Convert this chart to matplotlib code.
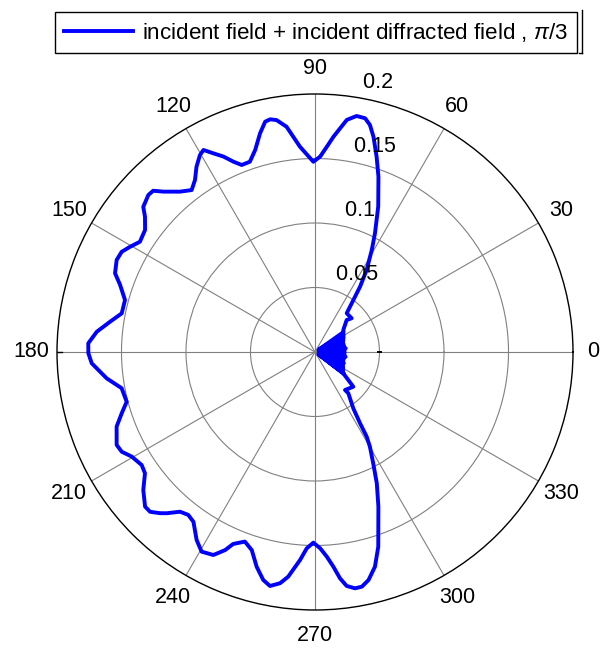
import numpy as np
import matplotlib
matplotlib.use("Agg")
import matplotlib.pyplot as plt
from matplotlib.lines import Line2D

plt.rcParams["font.family"] = ["Liberation Sans", "DejaVu Sans"]
plt.rcParams["mathtext.fontset"] = "custom"
plt.rcParams["mathtext.rm"] = "Liberation Sans"
plt.rcParams["mathtext.it"] = "Liberation Sans:italic"

# Field pattern: observation angle (degrees) and field magnitude
theta_deg = [
    -37.0, -35, -33, -31, -29, -27, -25, -23, -21, -19, -17, -15, -13, -11, -9, -7,
    -5, -3, -1, 1, 3, 5, 7, 9, 11, 13, 15, 17, 19, 21, 23, 25, 27, 29, 31, 33, 35,
    37.9, 45.3, 42.6, 50.7, 53.6, 55.4, 57.8, 60.9, 63.2, 66.5, 70.1, 72.5, 74.8,
    76.4, 77.9, 80.0, 82.2, 83.6, 85.1, 86.7, 88.5, 90.5, 94.2, 95.8, 97.2, 99.4,
    100.9, 102.2, 104.1, 106.5, 108.9, 111.4, 113.2, 115.1, 117.1, 118.9, 120.3,
    122.6, 124.9, 127.3, 130.1, 133.4, 135.1, 136.7, 139.8, 141.5, 144.3, 147.8,
    150.4, 152.6, 155.1, 158.5, 161.0, 164.7, 168.7, 171.6, 174.7, 177.8, 180.3,
    182.9, 187.2, 190.6, 194.8, 197.6, 200.6, 205.1, 207.3, 209.7, 213.1, 215.5,
    218.8, 222.3, 224.1, 226.1, 227.4, 229.8, 232.1, 234.4, 237.8, 240.4, 243.4,
    245.6, 246.9, 249.7, 252.3, 254.8, 257.2, 259.1, 261.4, 263.2, 265.9, 267.6,
    269.5, 271.5, 273.3, 274.9, 276.3, 277.7, 279.6, 281.3, 283.2, 285.6, 288.0,
    292.3, 295.2, 297.6, 300.1, 301.4, 302.3, 304.2, 308.9, 308.3, 317.8, 319.9,
    323.0,
]
magnitude = [
    0.0274, 0.004, 0.026, 0.006, 0.025, 0.003, 0.024, 0.016, 0.024, 0.004, 0.023,
    0.017, 0.023, 0.003, 0.024, 0.017, 0.023, 0.004, 0.023, 0.005, 0.023, 0.017,
    0.024, 0.003, 0.023, 0.017, 0.023, 0.004, 0.023, 0.016, 0.024, 0.003, 0.025,
    0.006, 0.026, 0.004, 0.027,
    0.0278, 0.0349, 0.0386, 0.0388, 0.0501, 0.0615, 0.0751, 0.0905, 0.1031,
    0.1229, 0.1445, 0.1588, 0.1729, 0.1811, 0.1853, 0.1858, 0.1816, 0.1745,
    0.1675, 0.1594, 0.1515, 0.1475, 0.1596, 0.1678, 0.1760, 0.1822, 0.1837,
    0.1827, 0.1748, 0.1633, 0.1559, 0.1557, 0.1605, 0.1673, 0.1730, 0.1789,
    0.1768, 0.1705, 0.1626, 0.1578, 0.1625, 0.1711, 0.1771, 0.1775, 0.1743,
    0.1684, 0.1622, 0.1604, 0.1650, 0.1688, 0.1695, 0.1666, 0.1598, 0.1527,
    0.1528, 0.1606, 0.1699, 0.1759, 0.1757, 0.1733, 0.1628, 0.1525, 0.1510,
    0.1572, 0.1643, 0.1698, 0.1686, 0.1636, 0.1604, 0.1619, 0.1708, 0.1781,
    0.1780, 0.1734, 0.1698, 0.1621, 0.1600, 0.1619, 0.1722, 0.1780, 0.1760,
    0.1686, 0.1618, 0.1567, 0.1612, 0.1725, 0.1812, 0.1847, 0.1813, 0.1754,
    0.1616, 0.1523, 0.1478, 0.1522, 0.1589, 0.1671, 0.1765, 0.1830, 0.1858,
    0.1855, 0.1816, 0.1728, 0.1587, 0.1295, 0.1125, 0.0974, 0.0849, 0.0769,
    0.0653, 0.0528, 0.0412, 0.0375, 0.0401, 0.0337, 0.0274,
]

ring_values = [0.05, 0.1, 0.15, 0.2]
ring_labels = ["0.05", "0.1", "0.15", "0.2"]
spoke_angles = [0, 30, 60, 90, 120, 150, 180, 210, 240, 270, 300, 330]
spoke_labels = ["0", "30", "60", "90", "120", "150", "180", "210", "240", "270", "300", "330"]
legend_label = "incident field + incident diffracted field , $\\pi$/3"

FS = 15.5
LEG_FS = 16.1
GRID = "#808080"

fig = plt.figure(figsize=(6, 6.5), dpi=100)
ax = fig.add_axes([0.095, 0.06154, 0.86, 0.79385], projection="polar")
ax.set_ylim(0, ring_values[-1])
ax.set_yticks(ring_values[:-1])
ax.set_yticklabels([])
ax.set_xticks(np.deg2rad(spoke_angles))
ax.set_xticklabels([])
ax.tick_params(length=0)
ax.grid(True, color=GRID, linewidth=0.8, linestyle="-")
ax.spines["polar"].set_color("black")
ax.spines["polar"].set_linewidth(1.0)

# closed field curve
th = np.deg2rad(theta_deg + theta_deg[1:2])
rr = magnitude + magnitude[1:2]
line, = ax.plot(th, rr, color=(0, 0, 1), linewidth=2.8,
                solid_joinstyle="round", label=legend_label)

# small marks on the 0 and 180 degree axes
ax.plot([np.pi, np.pi], [0.2, 0.1965], color="black", linewidth=1.0)
ax.plot([0, 0], [0.0485, 0.0515], color="black", linewidth=1.4)

# angle labels around the outer ring (the 0 label is pulled in to stay on the canvas)
for ang, lab in zip(spoke_angles, spoke_labels):
    rad = 1.1 * ring_values[-1] if ang != 0 else 1.077 * ring_values[-1]
    ax.text(np.deg2rad(ang), rad, lab, ha="center", va="center",
            fontsize=FS, clip_on=False)

# ring magnitude labels along the 82 degree direction
for val, lab in zip(ring_values, ring_labels):
    ax.text(np.deg2rad(82), val + 0.0025, "  " + lab, ha="left", va="bottom",
            fontsize=FS, clip_on=False)

leg = fig.legend(handles=[line], loc="upper left",
                 bbox_to_anchor=(55 / 600, 1 - 12 / 650),
                 bbox_transform=fig.transFigure, fontsize=LEG_FS,
                 frameon=True, fancybox=False, shadow=False, framealpha=1,
                 edgecolor="black", borderpad=0.4, handlelength=3.1,
                 handletextpad=0.4, borderaxespad=0)
leg.get_frame().set_linewidth(1.0)

# bracket at the right end of the legend
bx = 582 / 600
fig.add_artist(Line2D([bx, bx], [1 - 10 / 650, 1 - 53 / 650], color="black",
                      linewidth=1.0, transform=fig.transFigure))
fig.add_artist(Line2D([bx - 3 / 600, bx], [1 - 53 / 650, 1 - 53 / 650], color="black",
                      linewidth=1.0, transform=fig.transFigure))

fig.savefig("out.png", dpi=100, facecolor="white")
